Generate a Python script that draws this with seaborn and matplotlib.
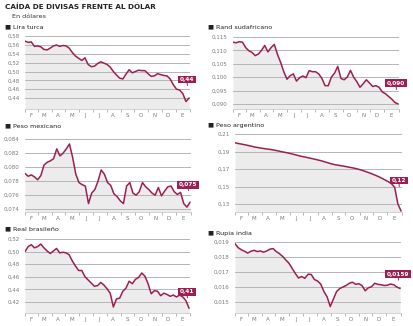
import numpy as np
import pandas as pd
import matplotlib
matplotlib.use("Agg")
import matplotlib.pyplot as plt
import matplotlib.dates as mdates
import seaborn as sns

# Weekly closes, Feb 2013 - Jan 2014 (USD per unit of currency)
dates = pd.date_range("2013-02-01", periods=53, freq="7D")
month_labels = ["F", "M", "A", "M", "J", "J", "A", "S", "O", "N", "D", "E"]

lira = [0.569, 0.566, 0.567, 0.557, 0.558, 0.556, 0.550, 0.549, 0.553, 0.558,
        0.560, 0.557, 0.559, 0.558, 0.553, 0.543, 0.535, 0.530, 0.525, 0.531,
        0.516, 0.511, 0.512, 0.518, 0.522, 0.519, 0.516, 0.510, 0.500, 0.492,
        0.485, 0.483, 0.494, 0.504, 0.497, 0.500, 0.503, 0.502, 0.502, 0.495,
        0.489, 0.490, 0.495, 0.493, 0.491, 0.490, 0.483, 0.470, 0.460, 0.458,
        0.450, 0.432, 0.440]

rand = [0.1130, 0.1128, 0.1132, 0.1130, 0.1110, 0.1098, 0.1092, 0.1080, 0.1086, 0.1100,
        0.1118, 0.1094, 0.1110, 0.1122, 0.1085, 0.1055, 0.1020, 0.0992, 0.1005, 0.1012,
        0.0985, 0.0998, 0.1004, 0.0998, 0.1024, 0.1020, 0.1020, 0.1012, 0.0995, 0.0968,
        0.0968, 0.1000, 0.1015, 0.1040, 0.0995, 0.0990, 0.1000, 0.1025, 0.1000, 0.0983,
        0.0962, 0.0975, 0.0990, 0.0978, 0.0965, 0.0968, 0.0962, 0.0945, 0.0938, 0.0928,
        0.0918, 0.0905, 0.0900]

peso_mx = [0.0791, 0.0787, 0.0789, 0.0786, 0.0782, 0.0788, 0.0803, 0.0807, 0.0809, 0.0812,
           0.0826, 0.0816, 0.0820, 0.0826, 0.0833, 0.0814, 0.0790, 0.0778, 0.0775, 0.0773,
           0.0748, 0.0763, 0.0768, 0.0780, 0.0796, 0.0790, 0.0778, 0.0774, 0.0762, 0.0758,
           0.0752, 0.0748, 0.0773, 0.0778, 0.0763, 0.0760, 0.0765, 0.0778, 0.0772, 0.0768,
           0.0763, 0.0760, 0.0771, 0.0759, 0.0766, 0.0772, 0.0773, 0.0765, 0.0761, 0.0764,
           0.0748, 0.0743, 0.0750]

peso_ar = [0.2000, 0.1992, 0.1985, 0.1978, 0.1970, 0.1962, 0.1953, 0.1946, 0.1940, 0.1934,
           0.1929, 0.1924, 0.1918, 0.1911, 0.1903, 0.1895, 0.1888, 0.1880, 0.1871, 0.1862,
           0.1852, 0.1843, 0.1836, 0.1828, 0.1820, 0.1812, 0.1803, 0.1794, 0.1783, 0.1772,
           0.1761, 0.1752, 0.1745, 0.1739, 0.1733, 0.1726, 0.1719, 0.1712, 0.1704, 0.1694,
           0.1683, 0.1670, 0.1657, 0.1643, 0.1628, 0.1612, 0.1594, 0.1575, 0.1555, 0.1532,
           0.1490, 0.1300, 0.1220]

real = [0.500, 0.508, 0.511, 0.506, 0.508, 0.512, 0.506, 0.501, 0.497, 0.501,
        0.505, 0.498, 0.499, 0.498, 0.495, 0.485, 0.477, 0.470, 0.470, 0.460,
        0.455, 0.450, 0.445, 0.446, 0.451, 0.447, 0.441, 0.434, 0.412, 0.425,
        0.426, 0.437, 0.442, 0.453, 0.449, 0.456, 0.459, 0.466, 0.461, 0.449,
        0.433, 0.438, 0.437, 0.430, 0.434, 0.432, 0.429, 0.431, 0.428, 0.431,
        0.428, 0.422, 0.410]

rupia = [0.01889, 0.01862, 0.01848, 0.01838, 0.01826, 0.01838, 0.01844, 0.01836, 0.01840, 0.01832,
         0.01840, 0.01852, 0.01856, 0.01836, 0.01822, 0.01804, 0.01780, 0.01758, 0.01724, 0.01690,
         0.01660, 0.01670, 0.01658, 0.01685, 0.01684, 0.01650, 0.01640, 0.01620, 0.01570, 0.01535,
         0.01470, 0.01520, 0.01570, 0.01590, 0.01600, 0.01610, 0.01625, 0.01632, 0.01618, 0.01622,
         0.01610, 0.01575, 0.01595, 0.01602, 0.01625, 0.01618, 0.01615, 0.01610, 0.01612, 0.01620,
         0.01615, 0.01600, 0.01590]

names = ["Lira turca", "Rand sudafricano", "Peso mexicano",
         "Peso argentino", "Real brasileño", "Rupia india"]
series = [lira, rand, peso_mx, peso_ar, real, rupia]
yticks = [
    [0.44, 0.46, 0.48, 0.50, 0.52, 0.54, 0.56, 0.58],
    [0.090, 0.095, 0.100, 0.105, 0.110, 0.115],
    [0.074, 0.076, 0.078, 0.080, 0.082, 0.084],
    [0.13, 0.15, 0.17, 0.19, 0.21],
    [0.42, 0.44, 0.46, 0.48, 0.50, 0.52],
    [0.015, 0.016, 0.017, 0.018, 0.019],
]
tick_decimals = [2, 3, 3, 2, 2, 3]
end_decimals = [2, 3, 3, 2, 2, 4]

# Panel layout in pixels: left, right, top, bottom, y-limits, title y, label lift (px)
W, H = 414, 326
panels = [
    dict(l=25, r=190, t=34, b=109, ylim=(0.415, 0.585), tx=5, ty=27, lift=16),
    dict(l=233, r=399, t=35, b=109, ylim=(0.0881, 0.1157), tx=208, ty=27, lift=18),
    dict(l=25, r=191, t=137, b=212, ylim=(0.0736, 0.0843), tx=5, ty=126, lift=15),
    dict(l=235, r=402, t=132, b=212, ylim=(0.1209, 0.2123), tx=208, ty=126, lift=28),
    dict(l=25, r=190, t=237, b=313, ylim=(0.4025, 0.5232), tx=5, ty=229, lift=14),
    dict(l=235, r=401, t=240, b=313, ylim=(0.01427, 0.01913), tx=208, ty=234, lift=12),
]

LINE = "#9b1f52"
FILL = "#ececec"
GRID = "#b5b5b5"
TXT = "#7a7a7a"

sns.set_theme(style="white")
plt.rcParams["font.family"] = ["Liberation Sans Narrow", "DejaVu Sans"]

fig = plt.figure(figsize=(W / 100, H / 100), dpi=100)
fig.patch.set_facecolor("white")


def comma(v, d):
    return f"{v:.{d}f}".replace(".", ",")


fig.text(5 / W, 1 - 7 / H, "CAÍDA DE DIVISAS FRENTE AL DÓLAR", fontsize=5.2,
         fontweight="bold", color="#222222", va="center", ha="left")
fig.text(12 / W, 1 - 17 / H, "En dólares", fontsize=4.6, color="#333333",
         va="center", ha="left")

xmin = pd.Timestamp("2013-02-01")
xmax = pd.Timestamp("2014-02-02")
month_starts = pd.date_range("2013-02-01", periods=13, freq="MS")
month_mids = pd.date_range("2013-02-01", periods=12, freq="MS") + pd.Timedelta(days=14)

for i, (p, name, vals) in enumerate(zip(panels, names, series)):
    ax = fig.add_axes([p["l"] / W, 1 - p["b"] / H, (p["r"] - p["l"]) / W, (p["b"] - p["t"]) / H])
    df = pd.DataFrame({"fecha": dates, "valor": vals})
    lo, hi = p["ylim"]
    ax.fill_between(df["fecha"], df["valor"], lo, color=FILL, lw=0, zorder=0.2)
    sns.lineplot(data=df, x="fecha", y="valor", ax=ax, color=LINE, lw=1.1, zorder=3)
    ax.set_xlim(xmin, xmax)
    ax.set_ylim(lo, hi)
    ax.set_xlabel("")
    ax.set_ylabel("")
    ax.set_facecolor("white")

    ax.set_yticks(yticks[i])
    ax.set_yticklabels([comma(v, tick_decimals[i]) for v in yticks[i]])
    ax.tick_params(axis="y", length=0, pad=4, labelsize=4, labelcolor=TXT)
    ax.set_axisbelow(True)
    ax.grid(axis="y", color=GRID, lw=0.7)
    ax.grid(axis="x", visible=False)

    ax.set_xticks(month_starts)
    ax.set_xticklabels([])
    ax.set_xticks(month_mids, minor=True)
    ax.set_xticklabels(month_labels, minor=True)
    ax.tick_params(axis="x", which="major", length=2, width=0.5, color="#999999", bottom=True)
    ax.tick_params(axis="x", which="minor", length=0, pad=3, labelsize=4, labelcolor=TXT)

    for s in ["top", "left", "right"]:
        ax.spines[s].set_visible(False)
    ax.spines["bottom"].set_color("#cccccc")
    ax.spines["bottom"].set_linewidth(0.6)

    fig.text(p["tx"] / W, 1 - p["ty"] / H, "■ " + name, fontsize=4.6,
             color="#222222", va="center", ha="left")

    # closing-value tag above the last point
    xe, ye = df["fecha"].iloc[-1], vals[-1]
    lift_pt = p["lift"] / 1.389
    ax.annotate(comma(ye, end_decimals[i]), xy=(xe, ye), xytext=(-1.5, lift_pt),
                textcoords="offset points", ha="center", va="bottom",
                fontsize=4.2, fontweight="bold", color="white",
                bbox=dict(boxstyle="square,pad=0.25", fc=LINE, ec="none"), zorder=5)
    ax.annotate("", xy=(xe, ye), xytext=(-1.5, lift_pt),
                textcoords="offset points",
                arrowprops=dict(arrowstyle="-", color=LINE, lw=0.7,
                                shrinkA=0, shrinkB=lift_pt - 2.5), zorder=5)

fig.savefig("out.png", dpi=100, facecolor="white")
